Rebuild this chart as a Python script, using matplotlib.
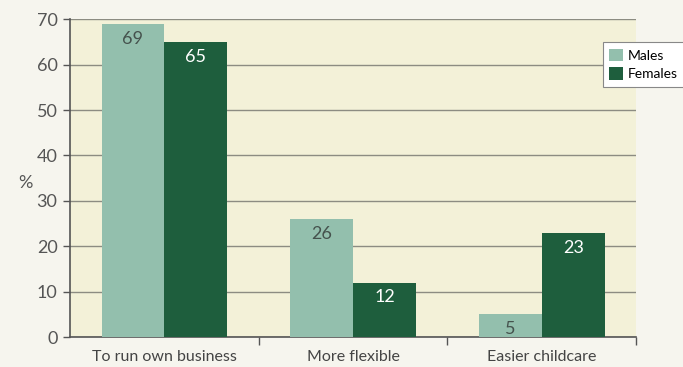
import matplotlib
matplotlib.use("Agg")
import matplotlib.pyplot as plt
import numpy as np

categories = ["To run own business", "More flexible", "Easier childcare"]
males = [69, 26, 5]
females = [65, 12, 23]
yticks = [0, 10, 20, 30, 40, 50, 60, 70]

plt.rcParams['font.family'] = ['Lato', 'DejaVu Sans']

fig = plt.figure(figsize=(6.83, 3.67), dpi=100, facecolor='#f6f5ee')
ax = fig.add_axes([0.1025, 0.0817, 0.829, 0.866])
ax.set_facecolor('#f3f1d8')

x = np.arange(len(categories))
w = 0.333
c_m = '#93bfad'
c_f = '#1e5e3d'
bm = ax.bar(x - w/2, males, w, color=c_m, label='Males', zorder=3)
bf = ax.bar(x + w/2, females, w, color=c_f, label='Females', zorder=3)

for rect, v in zip(bm, males):
    ax.annotate(str(v), (rect.get_x() + rect.get_width()/2, v), xytext=(0, -5),
                textcoords='offset points', ha='center', va='top',
                color='#45524d', fontsize=13, zorder=4)
for rect, v in zip(bf, females):
    ax.annotate(str(v), (rect.get_x() + rect.get_width()/2, v), xytext=(0, -5),
                textcoords='offset points', ha='center', va='top',
                color='white', fontsize=13, zorder=4)

ax.set_xlim(-0.5, 2.5)
ax.set_ylim(0, 70)
ax.set_yticks(yticks)
ax.yaxis.grid(True, color='#8c8c82', linewidth=1.0, zorder=1)
ax.set_axisbelow(True)

ax.set_xticks(x)
ax.set_xticklabels(categories)
ax.set_xticks([0.5, 1.5, 2.5], minor=True)
ax.tick_params(axis='x', which='major', length=0, pad=9, labelsize=11.5, colors='#444444')
ax.tick_params(axis='x', which='minor', length=6, width=1, color='#555555', direction='out')
ax.tick_params(axis='y', length=5, width=1, color='#555555', labelsize=13, labelcolor='#555555', pad=4)

for s in ['top', 'right']:
    ax.spines[s].set_visible(False)
for s in ['left', 'bottom']:
    ax.spines[s].set_color('#555555')
    ax.spines[s].set_linewidth(1.2)

fig.text(0.026, 0.5, '%', fontsize=13, color='#555555', va='center', ha='left')

leg = fig.legend(loc='upper left', bbox_to_anchor=(0.872, 0.905), fontsize=10,
                 frameon=True, fancybox=False, edgecolor='#888888', facecolor='white',
                 handlelength=1.0, handleheight=1.0, handletextpad=0.3,
                 borderpad=0.5, labelspacing=0.4, framealpha=1)
leg.get_frame().set_linewidth(0.8)

fig.savefig('out.png', dpi=100, facecolor=fig.get_facecolor())
